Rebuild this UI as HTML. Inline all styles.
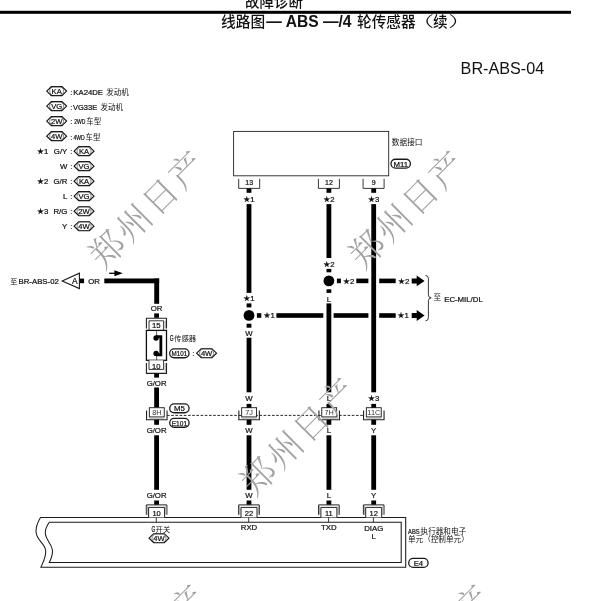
<!DOCTYPE html>
<html lang="zh-CN">
<head>
<meta charset="utf-8">
<title>BR-ABS-04</title>
<style>
html,body{margin:0;padding:0;background:#fff;}
body{width:602px;height:601px;overflow:hidden;}
svg{display:block;will-change:transform;}
text{fill:#111;stroke:#111;stroke-width:0.22px;}
text.wm,text.c{stroke:none;}
</style>
</head>
<body>
<svg width="602" height="601" viewBox="0 0 602 601">
<rect width="602" height="601" fill="#fff"/>
<text x="245" y="6.5" class="c" font-size="14.5" font-weight="500" font-family="Liberation Sans, Noto Sans CJK SC, sans-serif">故障诊断</text>
<rect x="0" y="10.8" width="571" height="3" fill="#000"/>
<text x="221" y="27" class="c" font-size="14.7" font-weight="500" font-family="Liberation Sans, Noto Sans CJK SC, sans-serif">线路图</text>
<text x="266.3" y="26.5" class="c" font-size="15.6" font-family="Liberation Sans, sans-serif" font-weight="bold">— ABS —/4</text>
<text x="357" y="27" class="c" font-size="14.65" font-weight="500" font-family="Liberation Sans, Noto Sans CJK SC, sans-serif">轮传感器</text>
<text transform="translate(406.5,27) scale(1.9,1)" x="0" y="0" class="c" font-size="14.65" font-weight="300" font-family="Liberation Sans, Noto Sans CJK SC, sans-serif">（</text>
<text x="432.9" y="27" class="c" font-size="14.65" font-weight="500" font-family="Liberation Sans, Noto Sans CJK SC, sans-serif">续</text>
<text transform="translate(448.3,27) scale(1.9,1)" x="0" y="0" class="c" font-size="14.65" font-weight="300" font-family="Liberation Sans, Noto Sans CJK SC, sans-serif">）</text>
<text x="460.6" y="73.8" class="c" font-size="16.2" font-family="Liberation Sans, sans-serif">BR-ABS-04</text>
<polygon points="46.70,91.1 51.30,86.60 62.00,86.60 66.60,91.1 62.00,95.60 51.30,95.60" fill="#fff" stroke="#111" stroke-width="1.1"/>
<rect x="49.65" y="86.80" width="14" height="8.60" rx="4.2" fill="none" stroke="#333" stroke-width="0.6"/>
<text x="56.65" y="93.8" font-size="7.6" text-anchor="middle" font-family="Liberation Sans, sans-serif" >KA</text>
<polygon points="46.70,106.11 51.30,101.61 62.00,101.61 66.60,106.11 62.00,110.61 51.30,110.61" fill="#fff" stroke="#111" stroke-width="1.1"/>
<rect x="49.65" y="101.81" width="14" height="8.60" rx="4.2" fill="none" stroke="#333" stroke-width="0.6"/>
<text x="56.65" y="108.81" font-size="7.6" text-anchor="middle" font-family="Liberation Sans, sans-serif" >VG</text>
<polygon points="46.70,121.11999999999999 51.30,116.62 62.00,116.62 66.60,121.11999999999999 62.00,125.62 51.30,125.62" fill="#fff" stroke="#111" stroke-width="1.1"/>
<rect x="49.65" y="116.82" width="14" height="8.60" rx="4.2" fill="none" stroke="#333" stroke-width="0.6"/>
<text x="56.65" y="123.82" font-size="7.6" text-anchor="middle" font-family="Liberation Sans, sans-serif" >2W</text>
<polygon points="46.70,136.13 51.30,131.63 62.00,131.63 66.60,136.13 62.00,140.63 51.30,140.63" fill="#fff" stroke="#111" stroke-width="1.1"/>
<rect x="49.65" y="131.83" width="14" height="8.60" rx="4.2" fill="none" stroke="#333" stroke-width="0.6"/>
<text x="56.65" y="138.82999999999998" font-size="7.6" text-anchor="middle" font-family="Liberation Sans, sans-serif" >4W</text>
<text x="70.2" y="94.6" font-size="7.8" text-anchor="start" font-family="Liberation Sans, sans-serif" >:</text>
<text x="73.3" y="94.6" font-size="7.75" text-anchor="start" font-family="Liberation Sans, sans-serif" >KA24DE</text>
<text x="106.2" y="94.6" font-size="7.5" text-anchor="start" font-family="Liberation Sans, Noto Sans CJK SC, sans-serif"  class="c">发动机</text>
<text x="70.2" y="109.7" font-size="7.8" text-anchor="start" font-family="Liberation Sans, sans-serif" >:</text>
<text x="73.0" y="109.7" font-size="7.5" text-anchor="start" font-family="Liberation Sans, sans-serif" >VG33E</text>
<text x="100.4" y="109.7" font-size="7.5" text-anchor="start" font-family="Liberation Sans, Noto Sans CJK SC, sans-serif"  class="c">发动机</text>
<text x="70.2" y="124.3" font-size="7.8" text-anchor="start" font-family="Liberation Sans, sans-serif" >:</text>
<text transform="translate(74.3,124.0) scale(0.76,1)" x="0" y="0" font-size="6.6" font-family="Liberation Sans, sans-serif">2WD</text>
<text x="86.3" y="124.4" font-size="7.5" text-anchor="start" font-family="Liberation Sans, Noto Sans CJK SC, sans-serif"  class="c">车型</text>
<text x="70.2" y="140.2" font-size="7.8" text-anchor="start" font-family="Liberation Sans, sans-serif" >:</text>
<text transform="translate(73.4,140.0) scale(0.76,1)" x="0" y="0" font-size="6.6" font-family="Liberation Sans, sans-serif">4WD</text>
<text x="85.4" y="140.4" font-size="7.5" text-anchor="start" font-family="Liberation Sans, Noto Sans CJK SC, sans-serif"  class="c">车型</text>
<text x="37" y="153.94" text-anchor="start" font-size="7.8" font-family="Liberation Sans, sans-serif"><tspan font-family="DejaVu Sans, sans-serif" font-size="7.8">★</tspan>1</text>
<text x="67.3" y="153.94" font-size="7.8" text-anchor="end" font-family="Liberation Sans, sans-serif" >G/Y</text>
<text x="70.2" y="153.94" font-size="7.8" text-anchor="start" font-family="Liberation Sans, sans-serif" >:</text>
<polygon points="74.10,151.14 78.70,146.64 89.40,146.64 94.00,151.14 89.40,155.64 78.70,155.64" fill="#fff" stroke="#111" stroke-width="1.1"/>
<rect x="77.05" y="146.84" width="14" height="8.60" rx="4.2" fill="none" stroke="#333" stroke-width="0.6"/>
<text x="84.05" y="153.83999999999997" font-size="7.6" text-anchor="middle" font-family="Liberation Sans, sans-serif" >KA</text>
<text x="67.3" y="168.95" font-size="7.8" text-anchor="end" font-family="Liberation Sans, sans-serif" >W</text>
<text x="70.2" y="168.95" font-size="7.8" text-anchor="start" font-family="Liberation Sans, sans-serif" >:</text>
<polygon points="74.10,166.14999999999998 78.70,161.65 89.40,161.65 94.00,166.14999999999998 89.40,170.65 78.70,170.65" fill="#fff" stroke="#111" stroke-width="1.1"/>
<rect x="77.05" y="161.85" width="14" height="8.60" rx="4.2" fill="none" stroke="#333" stroke-width="0.6"/>
<text x="84.05" y="168.84999999999997" font-size="7.6" text-anchor="middle" font-family="Liberation Sans, sans-serif" >VG</text>
<text x="37" y="183.96" text-anchor="start" font-size="7.8" font-family="Liberation Sans, sans-serif"><tspan font-family="DejaVu Sans, sans-serif" font-size="7.8">★</tspan>2</text>
<text x="67.3" y="183.96" font-size="7.8" text-anchor="end" font-family="Liberation Sans, sans-serif" >G/R</text>
<text x="70.2" y="183.96" font-size="7.8" text-anchor="start" font-family="Liberation Sans, sans-serif" >:</text>
<polygon points="74.10,181.16 78.70,176.66 89.40,176.66 94.00,181.16 89.40,185.66 78.70,185.66" fill="#fff" stroke="#111" stroke-width="1.1"/>
<rect x="77.05" y="176.86" width="14" height="8.60" rx="4.2" fill="none" stroke="#333" stroke-width="0.6"/>
<text x="84.05" y="183.85999999999999" font-size="7.6" text-anchor="middle" font-family="Liberation Sans, sans-serif" >KA</text>
<text x="67.3" y="198.97" font-size="7.8" text-anchor="end" font-family="Liberation Sans, sans-serif" >L</text>
<text x="70.2" y="198.97" font-size="7.8" text-anchor="start" font-family="Liberation Sans, sans-serif" >:</text>
<polygon points="74.10,196.17 78.70,191.67 89.40,191.67 94.00,196.17 89.40,200.67 78.70,200.67" fill="#fff" stroke="#111" stroke-width="1.1"/>
<rect x="77.05" y="191.87" width="14" height="8.60" rx="4.2" fill="none" stroke="#333" stroke-width="0.6"/>
<text x="84.05" y="198.86999999999998" font-size="7.6" text-anchor="middle" font-family="Liberation Sans, sans-serif" >VG</text>
<text x="37" y="213.98000000000002" text-anchor="start" font-size="7.8" font-family="Liberation Sans, sans-serif"><tspan font-family="DejaVu Sans, sans-serif" font-size="7.8">★</tspan>3</text>
<text x="67.3" y="213.98000000000002" font-size="7.8" text-anchor="end" font-family="Liberation Sans, sans-serif" >R/G</text>
<text x="70.2" y="213.98000000000002" font-size="7.8" text-anchor="start" font-family="Liberation Sans, sans-serif" >:</text>
<polygon points="74.10,211.18 78.70,206.68 89.40,206.68 94.00,211.18 89.40,215.68 78.70,215.68" fill="#fff" stroke="#111" stroke-width="1.1"/>
<rect x="77.05" y="206.88" width="14" height="8.60" rx="4.2" fill="none" stroke="#333" stroke-width="0.6"/>
<text x="84.05" y="213.88" font-size="7.6" text-anchor="middle" font-family="Liberation Sans, sans-serif" >2W</text>
<text x="67.3" y="228.99" font-size="7.8" text-anchor="end" font-family="Liberation Sans, sans-serif" >Y</text>
<text x="70.2" y="228.99" font-size="7.8" text-anchor="start" font-family="Liberation Sans, sans-serif" >:</text>
<polygon points="74.10,226.19 78.70,221.69 89.40,221.69 94.00,226.19 89.40,230.69 78.70,230.69" fill="#fff" stroke="#111" stroke-width="1.1"/>
<rect x="77.05" y="221.89" width="14" height="8.60" rx="4.2" fill="none" stroke="#333" stroke-width="0.6"/>
<text x="84.05" y="228.89" font-size="7.6" text-anchor="middle" font-family="Liberation Sans, sans-serif" >4W</text>
<rect x="233.6" y="131.4" width="155.1" height="44.4" fill="none" stroke="#222" stroke-width="0.9"/>
<text x="391.8" y="144.6" font-size="7.7" text-anchor="start" font-family="Liberation Sans, Noto Sans CJK SC, sans-serif"  class="c">数据接口</text>
<rect x="391.00" y="159.25" width="19.4" height="8.9" rx="4.45" fill="#fff" stroke="#1a1a1a" stroke-width="1.3"/>
<text x="400.7" y="166.5" font-size="7.8" text-anchor="middle" font-family="Liberation Sans, sans-serif" >M11</text>
<polyline points="238.7,178.8 238.7,188.4 259.7,188.4 259.7,178.8" fill="none" stroke="#222" stroke-width="0.9"/>
<text x="249.2" y="185" font-size="7" text-anchor="middle" font-family="Liberation Sans, sans-serif" >13</text>
<polyline points="318.4,178.8 318.4,188.4 339.4,188.4 339.4,178.8" fill="none" stroke="#222" stroke-width="0.9"/>
<text x="328.9" y="185" font-size="7" text-anchor="middle" font-family="Liberation Sans, sans-serif" >12</text>
<polyline points="363.1,178.8 363.1,188.4 384.1,188.4 384.1,178.8" fill="none" stroke="#222" stroke-width="0.9"/>
<text x="373.6" y="185" font-size="7" text-anchor="middle" font-family="Liberation Sans, sans-serif" >9</text>
<rect x="246.60" y="188.4" width="4.8" height="4.40" fill="#000"/>
<text x="249.0" y="201.9" text-anchor="middle" font-size="7.8" font-family="Liberation Sans, sans-serif"><tspan font-family="DejaVu Sans, sans-serif" font-size="7.8">★</tspan>1</text>
<rect x="326.50" y="188.4" width="4.8" height="4.40" fill="#000"/>
<text x="328.9" y="201.9" text-anchor="middle" font-size="7.8" font-family="Liberation Sans, sans-serif"><tspan font-family="DejaVu Sans, sans-serif" font-size="7.8">★</tspan>2</text>
<rect x="371.30" y="188.4" width="4.8" height="4.40" fill="#000"/>
<text x="373.7" y="201.9" text-anchor="middle" font-size="7.8" font-family="Liberation Sans, sans-serif"><tspan font-family="DejaVu Sans, sans-serif" font-size="7.8">★</tspan>3</text>
<rect x="246.60" y="204.1" width="4.8" height="88.80" fill="#000"/>
<text x="249.0" y="301.2" text-anchor="middle" font-size="7.8" font-family="Liberation Sans, sans-serif"><tspan font-family="DejaVu Sans, sans-serif" font-size="7.8">★</tspan>1</text>
<rect x="246.60" y="303.4" width="4.8" height="4.00" fill="#000"/>
<circle cx="249.0" cy="315.4" r="5.4" fill="#000"/>
<rect x="246.60" y="323.7" width="4.8" height="4.00" fill="#000"/>
<text x="249.0" y="335.5" font-size="7.8" text-anchor="middle" font-family="Liberation Sans, sans-serif" >W</text>
<rect x="246.60" y="337.7" width="4.8" height="54.60" fill="#000"/>
<rect x="326.50" y="204.1" width="4.8" height="53.90" fill="#000"/>
<text x="328.9" y="266.8" text-anchor="middle" font-size="7.8" font-family="Liberation Sans, sans-serif"><tspan font-family="DejaVu Sans, sans-serif" font-size="7.8">★</tspan>2</text>
<rect x="326.50" y="268.9" width="4.8" height="3.40" fill="#000"/>
<circle cx="328.9" cy="280.9" r="5.4" fill="#000"/>
<rect x="326.50" y="289.3" width="4.8" height="3.60" fill="#000"/>
<text x="328.9" y="301.6" font-size="7.8" text-anchor="middle" font-family="Liberation Sans, sans-serif" >L</text>
<rect x="256.9" y="313.20" width="4.40" height="4.6" fill="#000"/>
<text x="269.1" y="318.3" text-anchor="middle" font-size="7.8" font-family="Liberation Sans, sans-serif"><tspan font-family="DejaVu Sans, sans-serif" font-size="7.8">★</tspan>1</text>
<rect x="276.4" y="313.20" width="46.90" height="4.6" fill="#000"/>
<rect x="333.6" y="313.20" width="34.80" height="4.6" fill="#000"/>
<rect x="379.2" y="313.20" width="16.50" height="4.6" fill="#000"/>
<text x="403.2" y="318.3" text-anchor="middle" font-size="7.8" font-family="Liberation Sans, sans-serif"><tspan font-family="DejaVu Sans, sans-serif" font-size="7.8">★</tspan>1</text>
<rect x="336.9" y="278.60" width="4.00" height="4.6" fill="#000"/>
<text x="348.6" y="283.7" text-anchor="middle" font-size="7.8" font-family="Liberation Sans, sans-serif"><tspan font-family="DejaVu Sans, sans-serif" font-size="7.8">★</tspan>2</text>
<rect x="356.3" y="278.60" width="12.10" height="4.6" fill="#000"/>
<rect x="379.2" y="278.60" width="16.50" height="4.6" fill="#000"/>
<text x="403.7" y="283.7" text-anchor="middle" font-size="7.8" font-family="Liberation Sans, sans-serif"><tspan font-family="DejaVu Sans, sans-serif" font-size="7.8">★</tspan>2</text>
<polygon points="411.7,313.0 416.7,313.0 416.7,310.1 424.6,315.5 416.7,320.9 416.7,318.0 411.7,318.0" fill="#000"/>
<polygon points="411.7,278.4 416.7,278.4 416.7,275.5 424.6,280.9 416.7,286.29999999999995 416.7,283.4 411.7,283.4" fill="#000"/>
<rect x="326.50" y="303.4" width="4.8" height="88.90" fill="#000"/>
<rect x="371.30" y="204.1" width="4.8" height="188.20" fill="#000"/>
<path d="M425.6,275.5 Q428.4,275.5 428.4,278.5 L428.4,294.8 Q428.4,297.8 431.2,297.8 Q428.4,297.8 428.4,300.8 L428.4,317.8 Q428.4,320.8 425.6,320.8" fill="none" stroke="#222" stroke-width="0.9"/>
<text x="433.6" y="300.2" font-size="7.5" text-anchor="start" font-family="Liberation Sans, Noto Sans CJK SC, sans-serif"  class="c">至</text>
<text x="444.2" y="301.9" font-size="7.8" text-anchor="start" font-family="Liberation Sans, sans-serif" >EC-MIL/DL</text>
<text x="10.2" y="283.5" font-size="7" text-anchor="start" font-family="Liberation Sans, Noto Sans CJK SC, sans-serif"  class="c">至</text>
<text x="18.5" y="283.8" font-size="7.8" text-anchor="start" font-family="Liberation Sans, sans-serif" >BR-ABS-02</text>
<polygon points="62.2,280.9 79.4,273.2 79.4,288.6" fill="#fff" stroke="#1a1a1a" stroke-width="1.1"/>
<text x="74.7" y="283.9" font-size="8.4" text-anchor="middle" font-family="Liberation Sans, sans-serif" >A</text>
<rect x="79.7" y="278.60" width="4.40" height="4.6" fill="#000"/>
<text x="94" y="283.8" font-size="7.8" text-anchor="middle" font-family="Liberation Sans, sans-serif" >OR</text>
<rect x="104.3" y="278.50" width="54.80" height="4.8" fill="#000"/>
<rect x="154.25" y="278.5" width="4.9" height="25.30" fill="#000"/>
<path d="M109.2,273.3 L116,273.3" stroke="#000" stroke-width="1.3"/><polygon points="114.4,270.3 122.8,273.3 114.4,276.2" fill="#000"/>
<text x="156.6" y="310.5" font-size="7.8" text-anchor="middle" font-family="Liberation Sans, sans-serif" >OR</text>
<rect x="154.20" y="313.4" width="4.8" height="4.40" fill="#000"/>
<polyline points="146.4,328.4 146.4,318.3 166.5,318.3 166.5,328.4" fill="none" stroke="#222" stroke-width="1.1"/>
<path d="M165.2,320.5 L165.2,328.4" stroke="#999" stroke-width="1" fill="none"/>
<polyline points="149,330.4 149,320.8 163.6,320.8 163.6,330.4" fill="#fff" stroke="#222" stroke-width="0.9"/>
<text x="156.3" y="328.3" font-size="7.8" text-anchor="middle" font-family="Liberation Sans, sans-serif" >15</text>
<rect x="146.4" y="330.4" width="20.1" height="29.9" fill="#fff" stroke="#111" stroke-width="1.3"/>
<path d="M156.6,330.4 L156.6,338 M156.6,353.4 L156.6,360.3" stroke="#222" stroke-width="0.7" fill="none"/>
<circle cx="156.1" cy="338" r="2.7" fill="#000"/><circle cx="156.1" cy="353.4" r="2.7" fill="#000"/>
<path d="M156.1,336.6 L160.85,336.6 L160.85,354.8 L156.1,354.8" fill="none" stroke="#000" stroke-width="2.8"/>
<polyline points="146.4,363 146.4,373.4 166.5,373.4 166.5,363" fill="none" stroke="#222" stroke-width="1.1"/>
<path d="M165.2,363 L165.2,371.5" stroke="#999" stroke-width="1" fill="none"/>
<polyline points="149,360.3 149,369.4 163.6,369.4 163.6,360.3" fill="#fff" stroke="#222" stroke-width="0.9"/>
<text x="156.3" y="368.6" font-size="7.6" text-anchor="middle" font-family="Liberation Sans, sans-serif" >10</text>
<text transform="translate(169.8,340.8) scale(0.6,1)" x="0" y="0" font-size="8.2" font-family="Liberation Sans, sans-serif">G</text>
<text x="174.0" y="340.6" font-size="7.4" text-anchor="start" font-family="Liberation Sans, Noto Sans CJK SC, sans-serif"  class="c">传感器</text>
<rect x="169.65" y="348.85" width="19.4" height="8.9" rx="4.45" fill="#fff" stroke="#1a1a1a" stroke-width="1.3"/>
<text x="179.35" y="356.1" font-size="7.8" text-anchor="middle" font-family="Liberation Sans, sans-serif" textLength="15.6" lengthAdjust="spacingAndGlyphs">M101</text>
<text x="192.2" y="356.3" font-size="7.8" text-anchor="start" font-family="Liberation Sans, sans-serif" >:</text>
<polygon points="196.65,353.2 201.25,348.70 211.95,348.70 216.55,353.2 211.95,357.70 201.25,357.70" fill="#fff" stroke="#111" stroke-width="1.1"/>
<rect x="199.60" y="348.90" width="14" height="8.60" rx="4.2" fill="none" stroke="#333" stroke-width="0.6"/>
<text x="206.6" y="355.9" font-size="7.6" text-anchor="middle" font-family="Liberation Sans, sans-serif" >4W</text>
<rect x="154.20" y="373.4" width="4.8" height="4.20" fill="#000"/>
<text x="156.6" y="386.2" font-size="7.8" text-anchor="middle" font-family="Liberation Sans, sans-serif" >G/OR</text>
<rect x="154.20" y="387.5" width="4.8" height="20.20" fill="#000"/>
<path d="M167,415.4 L363.4,415.4" stroke="#111" stroke-width="0.9" stroke-dasharray="2.6 1.6" fill="none"/>
<polyline points="146.55,410.5 146.55,419.8 167.05,419.8 167.05,410.5" fill="none" stroke="#222" stroke-width="1.1"/>
<rect x="149.35" y="407.7" width="14.9" height="9.2" fill="#fff" stroke="#222" stroke-width="0.95"/>
<path d="M149.35,418.1 L164.25,418.1" stroke="#999" stroke-width="0.9"/>
<text x="156.79999999999998" y="415.2" font-size="7.3" text-anchor="middle" font-family="Liberation Sans, sans-serif" style="fill:#333;stroke:none">8H</text>
<polyline points="238.85,410.5 238.85,419.8 259.35,419.8 259.35,410.5" fill="none" stroke="#222" stroke-width="1.1"/>
<rect x="241.65" y="407.7" width="14.9" height="9.2" fill="#fff" stroke="#222" stroke-width="0.95"/>
<path d="M241.65,418.1 L256.55,418.1" stroke="#999" stroke-width="0.9"/>
<text x="249.1" y="415.2" font-size="7.3" text-anchor="middle" font-family="Liberation Sans, sans-serif" style="fill:#333;stroke:none">7J</text>
<polyline points="318.95,410.5 318.95,419.8 339.45,419.8 339.45,410.5" fill="none" stroke="#222" stroke-width="1.1"/>
<rect x="321.75" y="407.7" width="14.9" height="9.2" fill="#fff" stroke="#222" stroke-width="0.95"/>
<path d="M321.75,418.1 L336.65,418.1" stroke="#999" stroke-width="0.9"/>
<text x="329.2" y="415.2" font-size="7.3" text-anchor="middle" font-family="Liberation Sans, sans-serif" style="fill:#333;stroke:none">7H</text>
<polyline points="363.55,410.5 363.55,419.8 384.05,419.8 384.05,410.5" fill="none" stroke="#222" stroke-width="1.1"/>
<rect x="366.35" y="407.7" width="14.9" height="9.2" fill="#fff" stroke="#222" stroke-width="0.95"/>
<path d="M366.35,418.1 L381.25,418.1" stroke="#999" stroke-width="0.9"/>
<text x="373.8" y="415.2" font-size="7.3" text-anchor="middle" font-family="Liberation Sans, sans-serif" style="fill:#333;stroke:none">11C</text>
<rect x="169.70" y="403.85" width="19.4" height="8.9" rx="4.45" fill="#fff" stroke="#1a1a1a" stroke-width="1.3"/>
<text x="179.4" y="411.1" font-size="7.8" text-anchor="middle" font-family="Liberation Sans, sans-serif" >M5</text>
<rect x="169.70" y="418.35" width="19.4" height="8.9" rx="4.45" fill="#fff" stroke="#1a1a1a" stroke-width="1.3"/>
<text x="179.4" y="425.6" font-size="7.8" text-anchor="middle" font-family="Liberation Sans, sans-serif" textLength="15.4" lengthAdjust="spacingAndGlyphs">E101</text>
<rect x="154.20" y="419.8" width="4.8" height="5.00" fill="#000"/>
<text x="156.6" y="433.2" font-size="7.8" text-anchor="middle" font-family="Liberation Sans, sans-serif" >G/OR</text>
<rect x="154.20" y="435.3" width="4.8" height="54.50" fill="#000"/>
<text x="156.6" y="498.2" font-size="7.8" text-anchor="middle" font-family="Liberation Sans, sans-serif" >G/OR</text>
<rect x="154.20" y="500.5" width="4.8" height="4.30" fill="#000"/>
<rect x="246.60" y="419.8" width="4.8" height="5.00" fill="#000"/>
<text x="249.0" y="433.2" font-size="7.8" text-anchor="middle" font-family="Liberation Sans, sans-serif" >W</text>
<rect x="246.60" y="435.3" width="4.8" height="54.50" fill="#000"/>
<text x="249.0" y="498.2" font-size="7.8" text-anchor="middle" font-family="Liberation Sans, sans-serif" >W</text>
<rect x="246.60" y="500.5" width="4.8" height="4.30" fill="#000"/>
<rect x="326.50" y="419.8" width="4.8" height="5.00" fill="#000"/>
<text x="328.9" y="433.2" font-size="7.8" text-anchor="middle" font-family="Liberation Sans, sans-serif" >L</text>
<rect x="326.50" y="435.3" width="4.8" height="54.50" fill="#000"/>
<text x="328.9" y="498.2" font-size="7.8" text-anchor="middle" font-family="Liberation Sans, sans-serif" >L</text>
<rect x="326.50" y="500.5" width="4.8" height="4.30" fill="#000"/>
<rect x="371.30" y="419.8" width="4.8" height="5.00" fill="#000"/>
<text x="373.7" y="433.2" font-size="7.8" text-anchor="middle" font-family="Liberation Sans, sans-serif" >Y</text>
<rect x="371.30" y="435.3" width="4.8" height="54.50" fill="#000"/>
<text x="373.7" y="498.2" font-size="7.8" text-anchor="middle" font-family="Liberation Sans, sans-serif" >Y</text>
<rect x="371.30" y="500.5" width="4.8" height="4.30" fill="#000"/>
<text x="249.0" y="401.3" font-size="7.8" text-anchor="middle" font-family="Liberation Sans, sans-serif" >W</text>
<text x="328.9" y="401.3" font-size="7.8" text-anchor="middle" font-family="Liberation Sans, sans-serif" >L</text>
<text x="373.7" y="400.7" text-anchor="middle" font-size="7.8" font-family="Liberation Sans, sans-serif"><tspan font-family="DejaVu Sans, sans-serif" font-size="7.8">★</tspan>3</text>
<rect x="246.60" y="403.9" width="4.8" height="3.80" fill="#000"/>
<rect x="326.50" y="403.9" width="4.8" height="3.80" fill="#000"/>
<rect x="371.30" y="403.9" width="4.8" height="3.80" fill="#000"/>
<path d="M40.6,517.4 L405.7,517.4 L405.7,567.3 L40.9,567.3 C44,560 46.5,556 45.6,550 C44.5,543 36,540 36,531.3 C36,525 38.5,521 40.6,517.4 Z" fill="#fff" stroke="#1a1a1a" stroke-width="1.05"/>
<path d="M49.3,522.2 L401.2,522.2 L401.2,562.4 L49.3,562.4 C51.5,558 53,555 52.4,550 C51.5,543 45.3,540 45.3,532.6 C45.3,528 47,525.5 49.3,522.2 Z" fill="none" stroke="#1a1a1a" stroke-width="1.05"/>
<polyline points="146.30,514.8 146.30,504.9 166.90,504.9 166.90,514.8" fill="none" stroke="#222" stroke-width="1"/>
<path d="M147.30,505.8 L147.30,514.8 M165.90,505.8 L165.90,514.8" fill="none" stroke="#999" stroke-width="0.9"/>
<polyline points="148.60,517.4 148.60,507.4 164.60,507.4 164.60,517.4" fill="#fff" stroke="#222" stroke-width="1"/>
<text x="156.6" y="515.5" font-size="7.5" text-anchor="middle" font-family="Liberation Sans, sans-serif" >10</text>
<path d="M156.29999999999998,517.4 L156.29999999999998,522.2" stroke="#222" stroke-width="0.9"/>
<polyline points="238.70,514.8 238.70,504.9 259.30,504.9 259.30,514.8" fill="none" stroke="#222" stroke-width="1"/>
<path d="M239.70,505.8 L239.70,514.8 M258.30,505.8 L258.30,514.8" fill="none" stroke="#999" stroke-width="0.9"/>
<polyline points="241.00,517.4 241.00,507.4 257.00,507.4 257.00,517.4" fill="#fff" stroke="#222" stroke-width="1"/>
<text x="249.0" y="515.5" font-size="7.5" text-anchor="middle" font-family="Liberation Sans, sans-serif" >22</text>
<path d="M248.7,517.4 L248.7,522.2" stroke="#222" stroke-width="0.9"/>
<polyline points="318.60,514.8 318.60,504.9 339.20,504.9 339.20,514.8" fill="none" stroke="#222" stroke-width="1"/>
<path d="M319.60,505.8 L319.60,514.8 M338.20,505.8 L338.20,514.8" fill="none" stroke="#999" stroke-width="0.9"/>
<polyline points="320.90,517.4 320.90,507.4 336.90,507.4 336.90,517.4" fill="#fff" stroke="#222" stroke-width="1"/>
<text x="328.9" y="515.5" font-size="7.5" text-anchor="middle" font-family="Liberation Sans, sans-serif" >11</text>
<path d="M328.59999999999997,517.4 L328.59999999999997,522.2" stroke="#222" stroke-width="0.9"/>
<polyline points="363.40,514.8 363.40,504.9 384.00,504.9 384.00,514.8" fill="none" stroke="#222" stroke-width="1"/>
<path d="M364.40,505.8 L364.40,514.8 M383.00,505.8 L383.00,514.8" fill="none" stroke="#999" stroke-width="0.9"/>
<polyline points="365.70,517.4 365.70,507.4 381.70,507.4 381.70,517.4" fill="#fff" stroke="#222" stroke-width="1"/>
<text x="373.7" y="515.5" font-size="7.5" text-anchor="middle" font-family="Liberation Sans, sans-serif" >12</text>
<path d="M373.4,517.4 L373.4,522.2" stroke="#222" stroke-width="0.9"/>
<text transform="translate(151.5,532.3) scale(0.6,1)" x="0" y="0" font-size="8.2" font-family="Liberation Sans, sans-serif">G</text>
<text x="155.6" y="532.2" font-size="7.3" text-anchor="start" font-family="Liberation Sans, Noto Sans CJK SC, sans-serif"  class="c">开关</text>
<polygon points="149.05,538.2 153.65,533.70 164.35,533.70 168.95,538.2 164.35,542.70 153.65,542.70" fill="#fff" stroke="#111" stroke-width="1.1"/>
<rect x="152.00" y="533.90" width="14" height="8.60" rx="4.2" fill="none" stroke="#333" stroke-width="0.6"/>
<text x="159" y="540.9000000000001" font-size="7.6" text-anchor="middle" font-family="Liberation Sans, sans-serif" >4W</text>
<text x="249.0" y="530.4" font-size="7.8" text-anchor="middle" font-family="Liberation Sans, sans-serif" >RXD</text>
<text x="328.9" y="530.4" font-size="7.8" text-anchor="middle" font-family="Liberation Sans, sans-serif" >TXD</text>
<text x="373.7" y="530.7" font-size="7.8" text-anchor="middle" font-family="Liberation Sans, sans-serif" >DIAG</text>
<text x="373.7" y="538.6" font-size="7.8" text-anchor="middle" font-family="Liberation Sans, sans-serif" >L</text>
<text transform="translate(408.0,534.1) scale(0.72,1)" x="0" y="0" font-size="8.1" font-family="Liberation Sans, sans-serif">ABS</text>
<text x="420.6" y="534.2" font-size="7.6" text-anchor="start" font-family="Liberation Sans, Noto Sans CJK SC, sans-serif"  class="c">执行器和电子</text>
<text x="408" y="542.1" font-size="7.6" text-anchor="start" font-family="Liberation Sans, Noto Sans CJK SC, sans-serif"  class="c">单元（控制单元）</text>
<rect x="408.70" y="558.45" width="19.4" height="8.9" rx="4.45" fill="#fff" stroke="#1a1a1a" stroke-width="1.3"/>
<text x="418.4" y="565.6999999999999" font-size="7.8" text-anchor="middle" font-family="Liberation Sans, sans-serif" >E4</text>
<text transform="translate(146.1,206.9) rotate(-45)" x="0" y="0" text-anchor="middle" class="wm" dominant-baseline="central" font-size="34.5" font-family="Noto Serif CJK SC, Liberation Serif, serif" font-weight="300" style="fill:#a2a2a2" letter-spacing="3">郑州日产</text>
<text transform="translate(406.1,206.9) rotate(-45)" x="0" y="0" text-anchor="middle" class="wm" dominant-baseline="central" font-size="34.5" font-family="Noto Serif CJK SC, Liberation Serif, serif" font-weight="300" style="fill:#a2a2a2" letter-spacing="3">郑州日产</text>
<text transform="translate(297.5,433.8) rotate(-45)" x="0" y="0" text-anchor="middle" class="wm" dominant-baseline="central" font-size="34.5" font-family="Noto Serif CJK SC, Liberation Serif, serif" font-weight="300" style="fill:#a2a2a2" letter-spacing="3">郑州日产</text>
<text transform="translate(146.8,640.7) rotate(-45)" x="0" y="0" text-anchor="middle" class="wm" dominant-baseline="central" font-size="34.5" font-family="Noto Serif CJK SC, Liberation Serif, serif" font-weight="300" style="fill:#a2a2a2" letter-spacing="3">郑州日产</text>
<text transform="translate(431.5,640.7) rotate(-45)" x="0" y="0" text-anchor="middle" class="wm" dominant-baseline="central" font-size="34.5" font-family="Noto Serif CJK SC, Liberation Serif, serif" font-weight="300" style="fill:#a2a2a2" letter-spacing="3">郑州日产</text>
</svg>
</body>
</html>
